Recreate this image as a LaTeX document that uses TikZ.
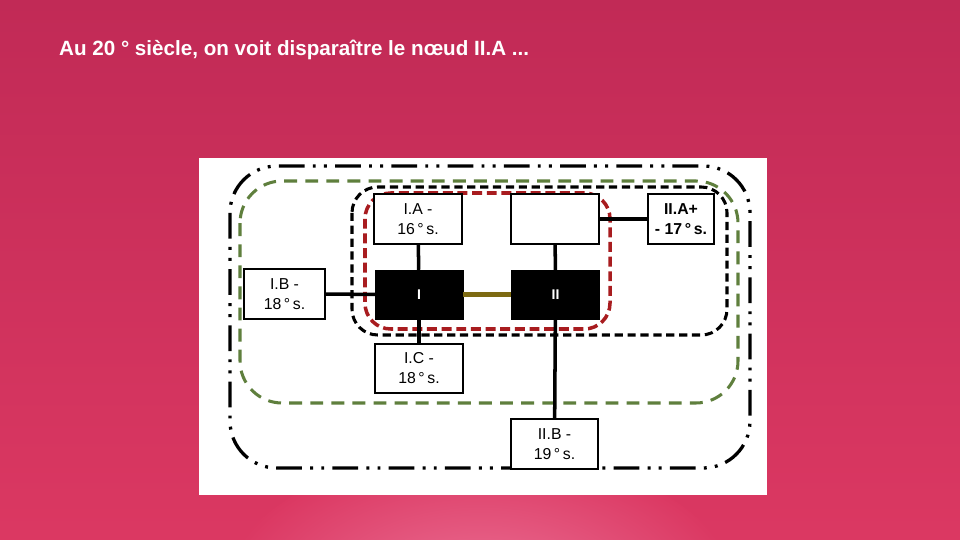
\documentclass[tikz,border=0pt]{standalone}
\usepackage{fontspec}
\setmainfont{Liberation Sans}
\usetikzlibrary{positioning}
\definecolor{slidetop}{HTML}{C12A56}
\definecolor{slidebot}{HTML}{DB3862}
\definecolor{glowpink}{HTML}{EC7398}
\definecolor{groupgreen}{HTML}{5F7F3D}
\definecolor{groupred}{HTML}{A81C1F}
\definecolor{linkolive}{HTML}{7D6A12}
\tikzset{
  sbox/.style={draw, line width=1pt, fill=white, minimum width=2.64cm, minimum height=1.5cm, align=center, inner sep=1pt, font=\fontsize{13.5}{17}\selectfont},
  nbox/.style={draw, fill=black, minimum width=2.64cm, minimum height=1.47cm, text=white, font=\bfseries\fontsize{12}{14}\selectfont},
  cline/.style={line width=3pt},
  olink/.style={line width=5pt, draw=linkolive},
  outergrp/.style={line width=2.8pt, rounded corners=40, dash pattern=on 22pt off 7pt on 2.5pt off 7pt on 2.5pt off 7pt},
  greengrp/.style={line width=2.6pt, draw=groupgreen, rounded corners=36, dash pattern=on 11pt off 7pt},
  blackgrp/.style={line width=2.6pt, rounded corners=22, dash pattern=on 7pt off 4pt},
  redgrp/.style={line width=3pt, draw=groupred, rounded corners=22, dash pattern=on 8.5pt off 4pt},
}
\begin{document}
\begin{tikzpicture}[x=0.03cm, y=-0.03cm]
  \useasboundingbox (0,0) rectangle (960,540);
  \shade[top color=slidetop, bottom color=slidebot] (0,0) rectangle (960,540);
  \begin{scope}
    \clip (0,0) rectangle (960,540);
    \shade[inner color=glowpink, outer color=slidebot] (480,600) ellipse (260 and 150);
  \end{scope}

  \node[anchor=west, text=white, font=\bfseries\fontsize{17.6}{20}\selectfont] (title) at (55,50)
    {Au 20 ° siècle, on voit disparaître le nœud II.A ...};

  \fill[white] (199,158) rectangle (767,495);

  \draw[outergrp] (230,166) rectangle (750,468);
  \draw[greengrp] (240,181) rectangle (738,403);
  \draw[blackgrp] (352,187) rectangle (727,335);
  \draw[redgrp] (365,193) rectangle (610,329);

  \node[sbox] (IA)   at (418,219) {I.A -\\16\,°\,s.};
  \node[sbox] (IIA)  at (555,219) {};
  \node[sbox, minimum width=1.98cm, font=\bfseries\fontsize{13.5}{17}\selectfont] (IIAp) at (681,219) {II.A+\\- 17\,°\,s.};
  \node[sbox, minimum width=2.43cm] (IB) at (284.5,294) {I.B -\\18\,°\,s.};
  \node[nbox] (I)  at (419,294.5) {I};
  \node[nbox] (II) at (555.5,294.5) {II};
  \node[sbox, minimum height=1.47cm] (IC)  at (419,368.5) {I.C -\\18\,°\,s.};
  \node[sbox, minimum width=2.61cm] (IIB) at (554.5,444) {II.B -\\19\,°\,s.};

  \draw[cline] (IA) -- (I);
  \draw[cline] (IB) -- (I);
  \draw[olink] (I) -- (II);
  \draw[cline] (IIA) -- (II);
  \draw[cline] (IIA) -- (IIAp);
  \draw[cline] (I) -- (IC);
  \draw[cline] (II) -- (IIB);
\end{tikzpicture}
\end{document}
